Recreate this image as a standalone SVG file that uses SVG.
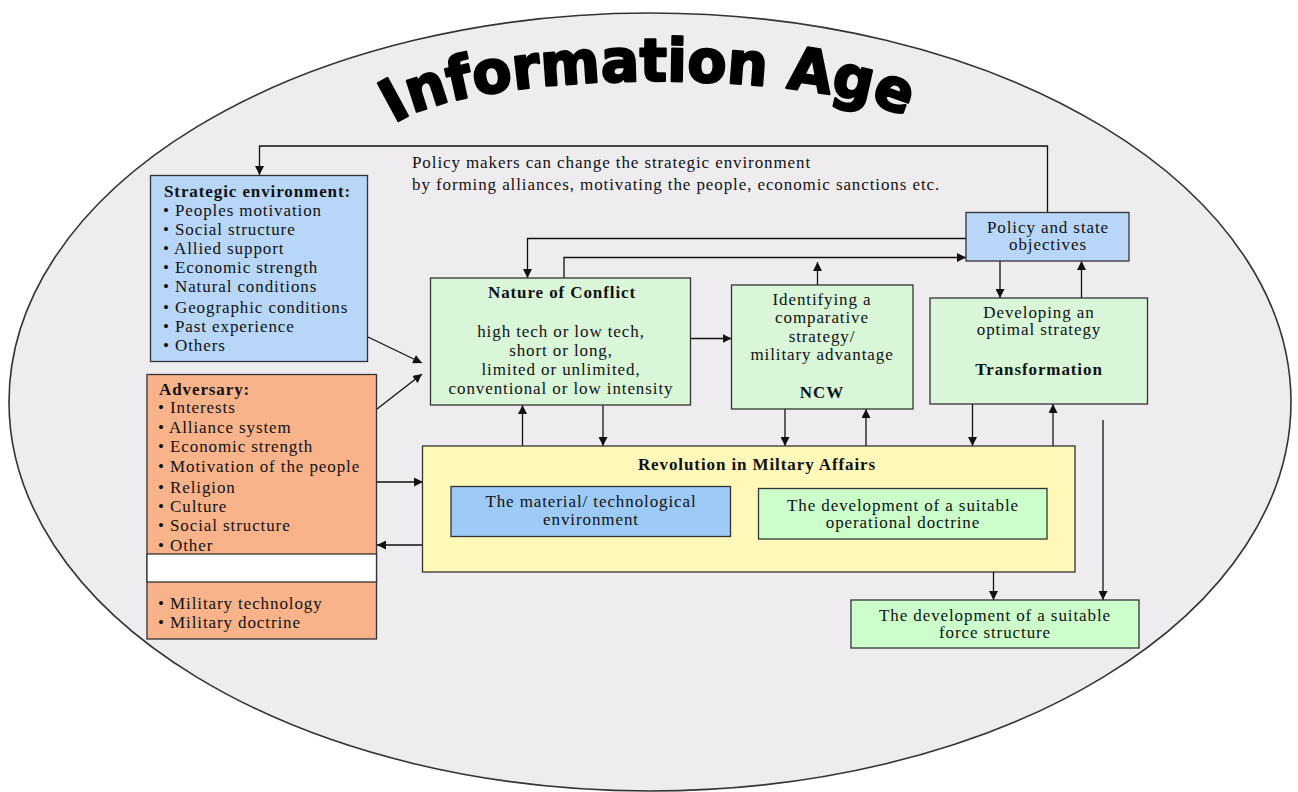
<svg xmlns="http://www.w3.org/2000/svg" width="1298" height="792" viewBox="0 0 1298 792">
<defs>
<style>
.t{font-family:"Liberation Serif","Times New Roman",serif;font-size:17px;letter-spacing:0.9px;fill:#111}
.b{font-weight:bold}
.m{text-anchor:middle}
.box{stroke:#333;stroke-width:1.3}
.ln{fill:none;stroke:#111;stroke-width:1.3}
.arr{marker-end:url(#ah)}
.title{font-family:"DejaVu Sans","Liberation Sans",sans-serif;font-weight:bold;font-size:59px;fill:#000;stroke:#000;stroke-width:2.4;stroke-linejoin:round}
</style>
<marker id="ah" viewBox="0 0 10 10" refX="10" refY="5" markerWidth="9" markerHeight="9" markerUnits="userSpaceOnUse" orient="auto">
<path d="M0,0 L10,5 L0,10 z" fill="#111"/>
</marker>
<path id="arc" d="M 394 124 C 470 70, 805 66, 906 117"/>
</defs>
<rect width="1298" height="792" fill="#ffffff"/>
<ellipse cx="650" cy="402" rx="641" ry="389" fill="#efecf0" stroke="#333" stroke-width="1.6"/>
<text class="title"><textPath href="#arc" textLength="522" lengthAdjust="spacingAndGlyphs">Information Age</textPath></text>

<g id="connectors">
<path class="ln arr" d="M 1047.5 212 V 146 H 259.5 V 175"/>
<path class="ln arr" d="M 966 238.5 H 527.5 V 278"/>
<path class="ln arr" d="M 564 278 V 257.5 H 966"/>
<path class="ln arr" d="M 817.5 285 V 262"/>
<path class="ln arr" d="M 690 338.5 H 731.5"/>
<path class="ln arr" d="M 1000 261 V 298"/>
<path class="ln arr" d="M 1081.5 298 V 261"/>
<path class="ln arr" d="M 368 337 L 422 363"/>
<path class="ln arr" d="M 377 409 L 422 374"/>
<path class="ln arr" d="M 377 482 H 423"/>
<path class="ln arr" d="M 423 545 H 377"/>
<path class="ln arr" d="M 522.5 446 V 405"/>
<path class="ln arr" d="M 603 405 V 446"/>
<path class="ln arr" d="M 785 409 V 446"/>
<path class="ln arr" d="M 866 446 V 409"/>
<path class="ln arr" d="M 972.5 404 V 446"/>
<path class="ln arr" d="M 1053 446 V 404"/>
<path class="ln arr" d="M 1103 420 V 600"/>
<path class="ln arr" d="M 993.5 572 V 600"/>
</g>

<g id="policy-note">
<text class="t" x="412" y="168">Policy makers can change the strategic environment</text>
<text class="t" x="412" y="190">by forming alliances, motivating the people, economic sanctions etc.</text>
</g>

<g id="strategic-environment">
<rect class="box" x="150.5" y="175.5" width="217" height="186" fill="#b8d7f8"/>
<text class="t b" x="164" y="197">Strategic environment:</text>
<text class="t" x="163" y="216">• Peoples motivation</text>
<text class="t" x="163" y="235">• Social structure</text>
<text class="t" x="163" y="254">• Allied support</text>
<text class="t" x="163" y="273">• Economic strength</text>
<text class="t" x="163" y="292">• Natural conditions</text>
<text class="t" x="163" y="313">• Geographic conditions</text>
<text class="t" x="163" y="332">• Past experience</text>
<text class="t" x="163" y="351">• Others</text>
</g>

<g id="adversary">
<rect class="box" x="147" y="374.5" width="229.5" height="264.5" fill="#f8b38a"/>
<rect class="box" x="147" y="554" width="229.5" height="28" fill="#ffffff"/>
<text class="t b" x="159" y="395">Adversary:</text>
<text class="t" x="158" y="413">• Interests</text>
<text class="t" x="158" y="433">• Alliance system</text>
<text class="t" x="158" y="452">• Economic strength</text>
<text class="t" x="158" y="472">• Motivation of the people</text>
<text class="t" x="158" y="493">• Religion</text>
<text class="t" x="158" y="512">• Culture</text>
<text class="t" x="158" y="531">• Social structure</text>
<text class="t" x="158" y="551">• Other</text>
<text class="t" x="158" y="609">• Military technology</text>
<text class="t" x="158" y="628">• Military doctrine</text>
</g>

<g id="policy-objectives">
<rect class="box" x="966" y="212.5" width="163" height="48.5" fill="#b8d7f8"/>
<text class="t m" x="1048" y="233">Policy and state</text>
<text class="t m" x="1048" y="250">objectives</text>
</g>

<g id="nature-of-conflict">
<rect class="box" x="430.5" y="278" width="260" height="127" fill="#d9f6d8"/>
<text class="t b m" x="562" y="298">Nature of Conflict</text>
<text class="t m" x="561" y="337">high tech or low tech,</text>
<text class="t m" x="561" y="356">short or long,</text>
<text class="t m" x="561" y="375">limited or unlimited,</text>
<text class="t m" x="561" y="394">conventional or low intensity</text>
</g>

<g id="identifying-advantage">
<rect class="box" x="731.5" y="285" width="181.5" height="124" fill="#d9f6d8"/>
<text class="t m" x="822" y="305">Identifying a</text>
<text class="t m" x="822" y="323">comparative</text>
<text class="t m" x="822" y="342">strategy/</text>
<text class="t m" x="822" y="360">military advantage</text>
<text class="t b m" x="822" y="398">NCW</text>
</g>

<g id="developing-strategy">
<rect class="box" x="930" y="298" width="217.5" height="106" fill="#d9f6d8"/>
<text class="t m" x="1039" y="318">Developing an</text>
<text class="t m" x="1039" y="335">optimal strategy</text>
<text class="t b m" x="1039" y="375">Transformation</text>
</g>

<g id="rma">
<rect class="box" x="422.5" y="446" width="652.5" height="126" fill="#fff8b8"/>
<text class="t b m" x="757" y="470">Revolution in Miltary Affairs</text>
</g>

<g id="material-environment">
<rect class="box" x="451" y="486.5" width="279.5" height="50" fill="#9ecaf8"/>
<text class="t m" x="591" y="507">The material/ technological</text>
<text class="t m" x="591" y="525">environment</text>
</g>

<g id="operational-doctrine">
<rect class="box" x="758.5" y="488.5" width="288.5" height="50.5" fill="#ccfecc"/>
<text class="t m" x="903" y="511">The development of a suitable</text>
<text class="t m" x="903" y="528">operational doctrine</text>
</g>

<g id="force-structure">
<rect class="box" x="851" y="600" width="288" height="48" fill="#ccfecc"/>
<text class="t m" x="995" y="621">The development of a suitable</text>
<text class="t m" x="995" y="638">force structure</text>
</g>
</svg>
